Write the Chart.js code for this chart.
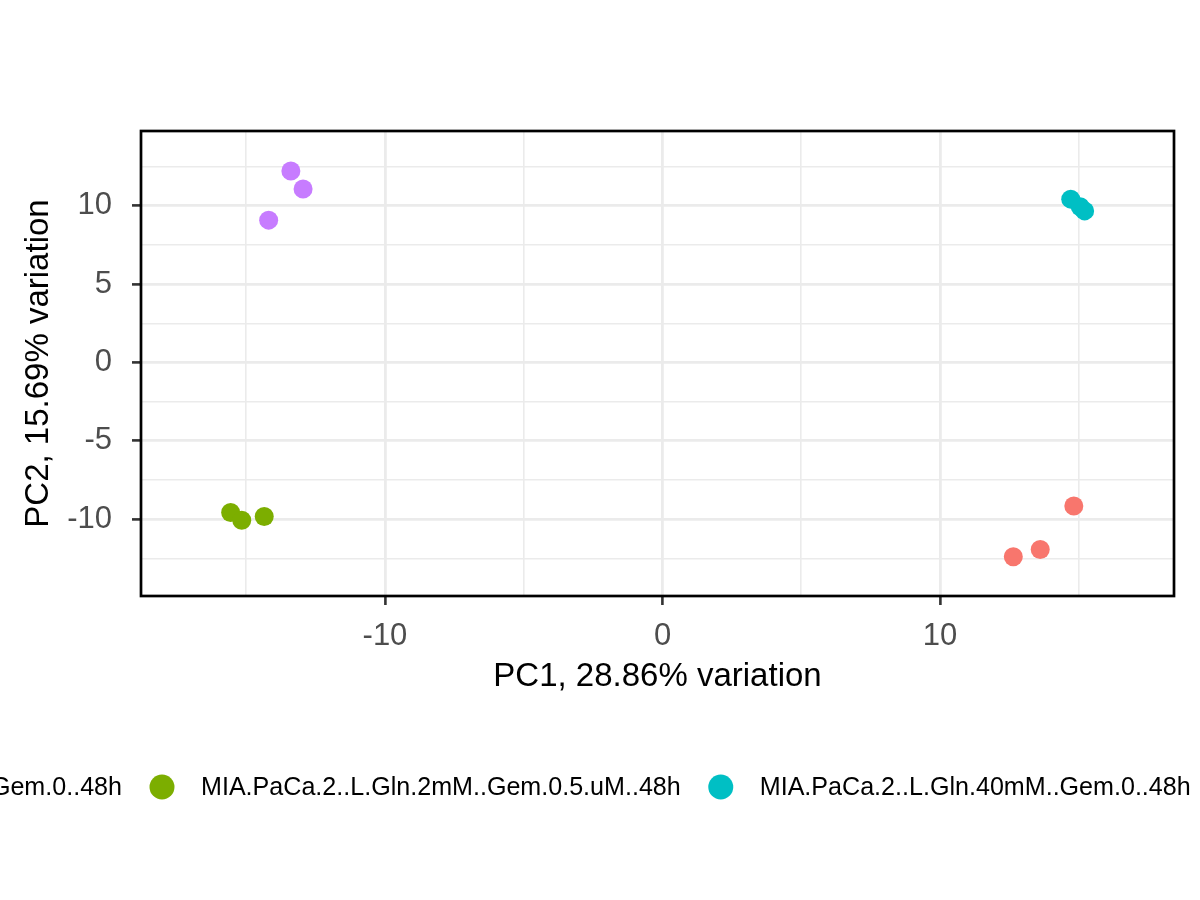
<!DOCTYPE html>
<html>
<head>
<meta charset="utf-8">
<script src="https://cdn.jsdelivr.net/npm/chart.js@4"></script>
<style>
  html, body { margin: 0; padding: 0; background: #fff; }
  #wrap { width: 1200px; height: 900px; }
</style>
</head>
<body>
<div id="wrap"><canvas id="pcaChart" width="1200" height="900"></canvas></div>
<script>
// groups (legend order) and colours
const groupNames = [
    'MIA.PaCa.2..L.Gln.2mM..Gem.0..48h',
    'MIA.PaCa.2..L.Gln.2mM..Gem.0.5.uM..48h',
    'MIA.PaCa.2..L.Gln.40mM..Gem.0..48h',
    'MIA.PaCa.2..L.Gln.40mM..Gem.0.5.uM..48h'
];
const groupColors = ['#F8766D', '#7CAE00', '#00BFC4', '#C77CFF'];

// PC scores
const pc1Red = [14.82, 13.61, 12.64];
const pc2Red = [-9.15, -11.93, -12.40];
const pc1Green = [-15.56, -15.16, -14.35];
const pc2Green = [-9.57, -10.06, -9.83];
const pc1Cyan = [14.71, 15.05, 15.21];
const pc2Cyan = [10.43, 9.94, 9.68];
const pc1Purple = [-13.39, -12.95, -14.19];
const pc2Purple = [12.23, 11.08, 9.09];

// axis ticks (major + minor grid)
const xTicks = [-15, -10, -5, 0, 5, 10, 15];
const yTicks = [-12.5, -10, -7.5, -5, -2.5, 0, 2.5, 5, 7.5, 10, 12.5];
const xLimits = [-18.79, 18.43];
const yLimits = [-14.90, 14.78];

const xTitle = 'PC1, 28.86% variation';
const yTitle = 'PC2, 15.69% variation';

const FONT = 'Liberation Sans, Arial, Helvetica, sans-serif';

function toPoints(xs, ys) {
    return xs.map((x, i) => ({ x: x, y: ys[i] }));
}

const seriesX = [pc1Red, pc1Green, pc1Cyan, pc1Purple];
const seriesY = [pc2Red, pc2Green, pc2Cyan, pc2Purple];

const datasets = groupNames.map((name, i) => ({
    label: name,
    data: toPoints(seriesX[i], seriesY[i]),
    backgroundColor: groupColors[i],
    borderWidth: 0,
    pointRadius: 9.5,
    pointHoverRadius: 9.5
}));

const isMajorX = v => v % 10 === 0;
const isMajorY = v => v % 5 === 0;

// ---------------------------------------------------------
// panel border + clipped bottom legend (ggplot style)
// ---------------------------------------------------------
const panelPlugin = {
    id: 'panelBorder',
    afterDraw(chart) {
        const { ctx, chartArea: a } = chart;
        ctx.save();
        ctx.strokeStyle = '#000';
        ctx.lineWidth = 2.7;
        ctx.strokeRect(a.left, a.top, a.right - a.left, a.bottom - a.top);
        ctx.restore();

        // legend row
        ctx.save();
        ctx.font = '25.1px ' + FONT;
        ctx.textBaseline = 'middle';
        ctx.textAlign = 'left';
        const y = 787;
        const keyGap = 39, itemGap = 40, r = 12.5;
        const widths = groupNames.map(n => ctx.measureText(n).width);
        // anchor the second key at its place, lay the others out around it
        let x = 162 - (widths[0] + keyGap + itemGap);
        groupNames.forEach((name, i) => {
            ctx.fillStyle = groupColors[i];
            ctx.beginPath();
            ctx.arc(x, y, r, 0, Math.PI * 2);
            ctx.fill();
            ctx.fillStyle = '#000';
            ctx.fillText(name, x + keyGap, y + 1);
            x += keyGap + widths[i] + itemGap;
        });
        ctx.restore();
    }
};

const ctx = document.getElementById('pcaChart').getContext('2d');
new Chart(ctx, {
    type: 'scatter',
    data: { datasets: datasets },
    plugins: [panelPlugin],
    options: {
        responsive: false,
        animation: false,
        devicePixelRatio: 1,
        layout: { padding: { top: 131, right: 26, bottom: 203, left: 0 } },
        plugins: {
            legend: { display: false },
            tooltip: { enabled: false }
        },
        scales: {
            x: {
                type: 'linear',
                min: xLimits[0],
                max: xLimits[1],
                afterBuildTicks: s => { s.ticks = xTicks.map(v => ({ value: v })); },
                afterFit: s => { s.height = 101; },
                border: { display: false },
                grid: {
                    color: c => '#EBEBEB',
                    lineWidth: c => (c.tick && isMajorX(c.tick.value) ? 2.8 : 1.6),
                    tickColor: c => (c.tick && isMajorX(c.tick.value) ? '#333333' : 'rgba(0,0,0,0)'),
                    tickWidth: 2.6,
                    tickLength: 9,
                    drawTicks: true
                },
                ticks: {
                    autoSkip: false,
                    maxRotation: 0,
                    padding: 13,
                    color: '#4D4D4D',
                    font: { family: FONT, size: 31 },
                    callback: v => (isMajorX(v) ? String(v) : '')
                },
                title: {
                    display: true,
                    text: xTitle,
                    color: '#000',
                    font: { family: FONT, size: 33 },
                    padding: 0
                }
            },
            y: {
                type: 'linear',
                min: yLimits[0],
                max: yLimits[1],
                afterBuildTicks: s => { s.ticks = yTicks.map(v => ({ value: v })); },
                afterFit: s => { s.width = 141; },
                border: { display: false },
                grid: {
                    color: c => '#EBEBEB',
                    lineWidth: c => (c.tick && isMajorY(c.tick.value) ? 2.8 : 1.6),
                    tickColor: c => (c.tick && isMajorY(c.tick.value) ? '#333333' : 'rgba(0,0,0,0)'),
                    tickWidth: 2.6,
                    tickLength: 9,
                    drawTicks: true
                },
                ticks: {
                    autoSkip: false,
                    padding: 20,
                    color: '#4D4D4D',
                    font: { family: FONT, size: 31 },
                    callback: v => (isMajorY(v) ? String(v) : '')
                },
                title: {
                    display: true,
                    text: yTitle,
                    color: '#000',
                    font: { family: FONT, size: 33 },
                    padding: { top: 19, bottom: 0 }
                }
            }
        }
    }
});
</script>
</body>
</html>
